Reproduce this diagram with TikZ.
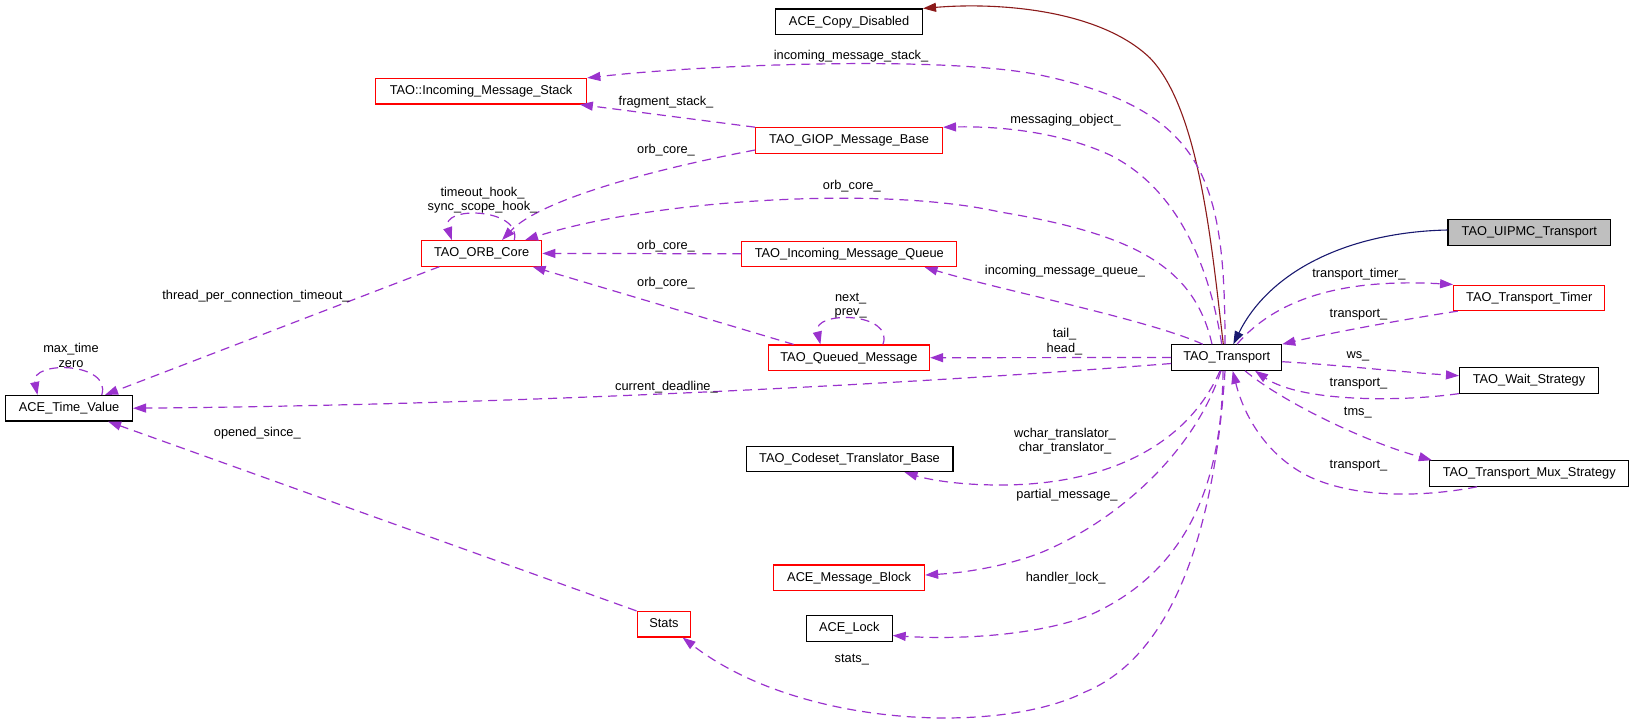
\documentclass[tikz,border=0pt]{standalone}
\usepackage{fontspec}
\setmainfont{Liberation Sans}
\usetikzlibrary{arrows.meta}
\definecolor{dorchid}{RGB}{154,50,205}
\definecolor{mnblue}{RGB}{25,25,112}
\definecolor{fbrick}{RGB}{139,26,26}
\definecolor{boxgray}{RGB}{191,191,191}
\begin{document}
\begin{tikzpicture}[x=1pt,y=-1pt,
  every node/.style={font=\fontsize{12.8}{14.5}\selectfont},
  cls/.style={draw=black, line width=1.1pt, rectangle, inner sep=0pt, minimum height=25.5pt, text height=9.2pt, text depth=2.6pt},
  clsred/.style={cls, draw=red},
  lbl/.style={inner sep=0pt, align=center},
  use/.style={draw=dorchid, line width=1.2pt, dash pattern=on 9pt off 6pt, -{Triangle[length=13pt,width=9pt]}},
  privinh/.style={draw=fbrick, line width=1.1pt, -{Triangle[length=13pt,width=9pt]}},
  pubinh/.style={draw=mnblue, line width=1.1pt, -{Triangle[length=13pt,width=9pt]}}
]
\path[use as bounding box] (0,0) rectangle (1635,724);

% nodes
\node[cls, minimum width=146.8pt] (cd) at (849.1,21.7) {ACE\_Copy\_Disabled};
\node[clsred, minimum width=211.4pt] (ims) at (481.1,91.2) {TAO::Incoming\_Message\_Stack};
\node[clsred, minimum width=186.8pt] (giop) at (849.1,140.5) {TAO\_GIOP\_Message\_Base};
\node[clsred, minimum width=120.4pt] (orb) at (481.6,253.4) {TAO\_ORB\_Core};
\node[clsred, minimum width=215pt] (imq) at (849.3,253.8) {TAO\_Incoming\_Message\_Queue};
\node[clsred, minimum width=161.4pt] (qm) at (848.9,357.7) {TAO\_Queued\_Message};
\node[cls, minimum width=126.8pt] (atv) at (69.1,408.2) {ACE\_Time\_Value};
\node[cls, minimum width=206.9pt] (cs) at (849.5,458.9) {TAO\_Codeset\_Translator\_Base};
\node[clsred, minimum width=151pt] (mb) at (849.1,577.7) {ACE\_Message\_Block};
\node[clsred, minimum width=53.6pt] (st) at (663.9,624.2) {Stats};
\node[cls, minimum width=85.7pt] (lk) at (849.3,628.3) {ACE\_Lock};
\node[cls, minimum width=110pt] (tr) at (1226.7,357.5) {TAO\_Transport};
\node[cls, fill=boxgray, minimum width=162.7pt] (ui) at (1529.3,232.5) {TAO\_UIPMC\_Transport};
\node[clsred, minimum width=151.2pt] (tt) at (1529.2,297.8) {TAO\_Transport\_Timer};
\node[cls, minimum width=139pt] (ws) at (1529,380.3) {TAO\_Wait\_Strategy};
\node[cls, minimum width=199.2pt] (mx) at (1529.2,473.5) {TAO\_Transport\_Mux\_Strategy};

% inheritance
\draw[privinh] ([xshift=-3.4pt]tr.north) .. controls (1212,250) and (1200,110) .. (1150,58) .. controls (1100,10) and (1000,2) .. (cd.north east);
\draw[pubinh] ([yshift=2.5pt]ui.west) .. controls (1350,232) and (1270,270) .. ([xshift=6.6pt]tr.north);

% usage
\draw[use] ([xshift=-1.7pt]tr.north) .. controls (1225,180) and (1205,110) .. (1040,75) .. controls (940,55) and (700,65) .. (ims.north east);
\draw[use] (giop.north west) -- ([xshift=-7.5pt]ims.south east);
\draw[use] ([xshift=-5pt]tr.north) .. controls (1210,270) and (1180,190) .. (1110,155) .. controls (1060,132) and (1000,126) .. (giop.north east);
\draw[use] ([yshift=-9.5pt]giop.west) .. controls (650,170) and (540,200) .. ([xshift=20.4pt]orb.north);
\draw[use] ([xshift=-14.7pt]tr.north) .. controls (1195,270) and (1140,235) .. (1000,212) .. controls (880,185) and (650,200) .. ([xshift=43.4pt]orb.north);
\draw[use] (imq.west) -- (orb.east);
\draw[use] ([xshift=-55.3pt]qm.north) -- ([xshift=-9.8pt]orb.south east);
\draw[use] ([xshift=34pt]qm.north) .. controls (895,312) and (812,310) .. ([xshift=-28.5pt]qm.north);
\draw[use] ([xshift=32.7pt]orb.north) .. controls (522,208) and (440,205) .. ([xshift=-29.8pt]orb.north);
\draw[use] ([xshift=-42.3pt]orb.south) -- ([xshift=35.9pt]atv.north);
\draw[use] ([xshift=32.7pt]atv.north) .. controls (112,362) and (30,360) .. ([xshift=-31.6pt]atv.north);
\draw[use] ([yshift=-6pt]tr.west) .. controls (900,385) and (500,405) .. (atv.east);
\draw[use] (st.north west) -- ([xshift=39pt]atv.south);
\draw[use] (tr.west) -- (qm.east);
\draw[use] ([xshift=-24pt]tr.north) .. controls (1150,320) and (1000,290) .. ([xshift=-32.8pt]imq.south east);
\draw[use] ([xshift=-6.7pt]tr.south) .. controls (1185,450) and (1100,485) .. (1000,485) .. controls (960,485) and (930,480) .. ([xshift=-49pt]cs.south east);
\draw[use] ([xshift=-5.7pt]tr.south) .. controls (1195,450) and (1120,520) .. (1040,553) .. controls (1000,568) and (960,573) .. ([yshift=2.7pt]mb.east);
\draw[use] ([xshift=-3.7pt]tr.south) .. controls (1222,480) and (1190,570) .. (1090,615) .. controls (1040,635) and (960,640) .. ([yshift=-7.2pt]lk.east);
\draw[use] ([xshift=-1.7pt]tr.south) .. controls (1215,525) and (1175,655) .. (1085,692) .. controls (1000,735) and (800,728) .. ([xshift=-8.7pt]st.south east);
\draw[use] ([xshift=10.3pt]tr.north) .. controls (1275,300) and (1340,278) .. (tt.north west);
\draw[use] ([xshift=4.8pt]tt.south west) .. controls (1400,320) and (1330,333) .. (tr.north east);
\draw[use] ([yshift=-4.2pt]tr.east) .. controls (1340,365) and (1400,372) .. ([yshift=4.6pt]ws.west);
\draw[use] (ws.south west) .. controls (1400,402) and (1300,402) .. ([xshift=28.3pt]tr.south);
\draw[use] ([xshift=18.3pt]tr.south) .. controls (1280,400) and (1360,440) .. ([xshift=2.8pt]mx.north west);
\draw[use] ([xshift=48pt]mx.south west) .. controls (1430,496) and (1360,500) .. (1310,477) .. controls (1270,458) and (1245,420) .. ([xshift=6pt]tr.south);

% labels
\node[lbl] (l1) at (851,55.7) {incoming\_message\_stack\_};
\node[lbl] (l2) at (666,101.7) {fragment\_stack\_};
\node[lbl] (l3) at (1065.5,120) {messaging\_object\_};
\node[lbl] (l4) at (666,150) {orb\_core\_};
\node[lbl] (l5) at (851.8,185.7) {orb\_core\_};
\node[lbl] (l6) at (482.5,200.3) {timeout\_hook\_\\sync\_scope\_hook\_};
\node[lbl] (l7) at (666,246) {orb\_core\_};
\node[lbl] (l8) at (1065,271.5) {incoming\_message\_queue\_};
\node[lbl] (l9) at (666,283.3) {orb\_core\_};
\node[lbl] (l10) at (256,295.7) {thread\_per\_connection\_timeout\_};
\node[lbl] (l11) at (850.7,305.5) {next\_\\prev\_};
\node[lbl] (l12) at (1064.5,341.8) {tail\_\\head\_};
\node[lbl] (l13) at (71,355.2) {max\_time\\zero};
\node[lbl] (l14) at (666.4,386.7) {current\_deadline\_};
\node[lbl] (l15) at (257.3,433.3) {opened\_since\_};
\node[lbl] (l16) at (1065,441) {wchar\_translator\_\\char\_translator\_};
\node[lbl] (l17) at (1067,495) {partial\_message\_};
\node[lbl] (l18) at (1065.7,578.3) {handler\_lock\_};
\node[lbl] (l19) at (851.8,660) {stats\_};
\node[lbl] (l20) at (1358.9,274.3) {transport\_timer\_};
\node[lbl] (l21) at (1358.5,315) {transport\_};
\node[lbl] (l22) at (1357.9,356.7) {ws\_};
\node[lbl] (l23) at (1358.5,384) {transport\_};
\node[lbl] (l24) at (1357.8,412.3) {tms\_};
\node[lbl] (l25) at (1358.5,465.7) {transport\_};
\end{tikzpicture}
\end{document}
